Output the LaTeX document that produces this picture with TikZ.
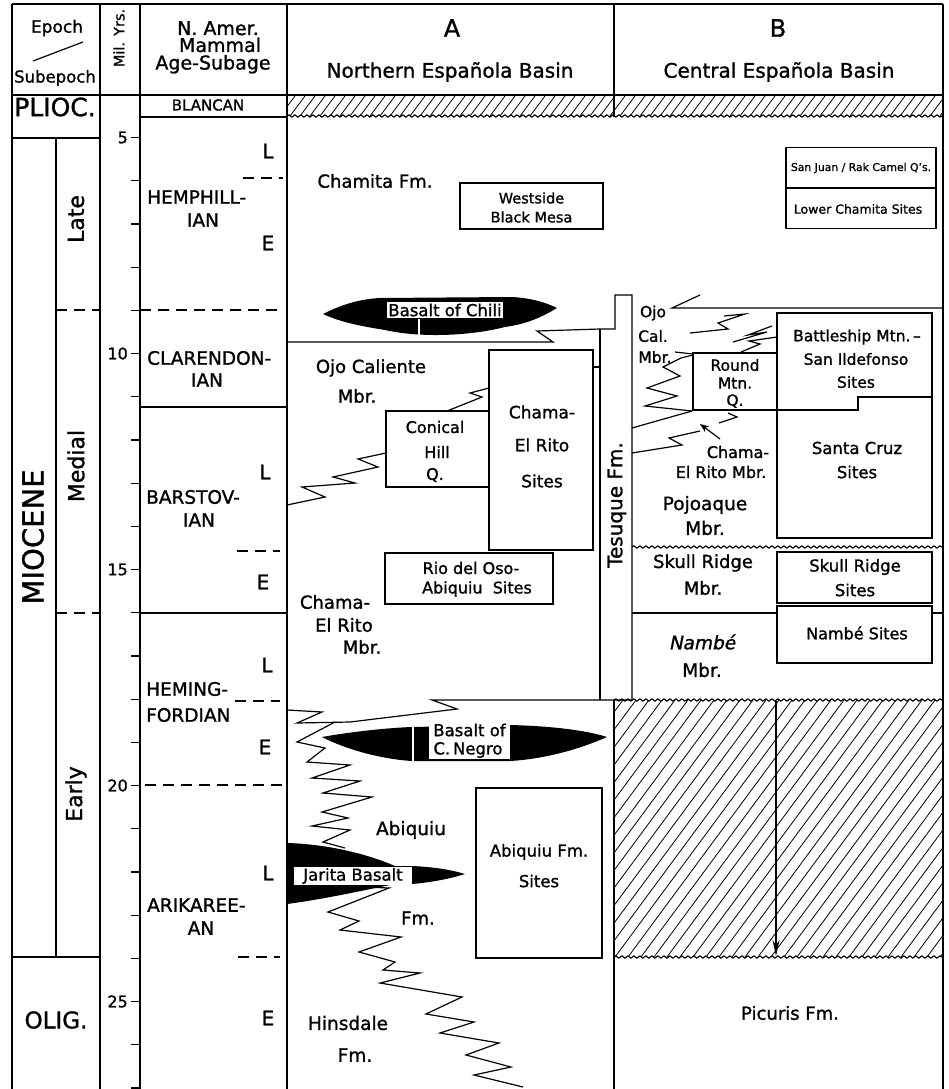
\documentclass[tikz,border=0pt]{standalone}
\usepackage{fontspec}
\setmainfont{DejaVu Sans}[FakeBold=1.2]
\usetikzlibrary{decorations.pathmorphing,arrows.meta}
\newcommand\fsz[1]{\fontsize{#1}{#1}\selectfont}
\tikzset{
  frame/.style={line width=1.5pt},
  ln/.style={line width=1.2pt, line join=miter},
  dsh/.style={line width=1.3pt, dash pattern=on 11pt off 7pt},
  wavy/.style={line width=1.1pt, decorate, decoration={snake, amplitude=1.1pt, segment length=6pt}},
  hatch/.style={line width=0.8pt},
  lab/.style={inner sep=0pt, font=\fsz{#1}},
  sbox/.style={draw, line width=1.2pt, inner sep=0pt},
}
\begin{document}
\begin{tikzpicture}[x=1pt,y=-1pt]
\useasboundingbox (0,0) rectangle (949,1089);

% ---------- hatched bands ----------
\begin{scope}
  \clip (287,96) rectangle (943,116);
  \foreach \x in {270,280,...,950} \draw[hatch] (\x,116) -- (\x+15,96);
\end{scope}
\draw[wavy] (287,116) -- (943,116);
\begin{scope}
  \clip (614,700) rectangle (943,957);
  \foreach \x in {420,433,...,950} \draw[hatch] (\x,957) -- (\x+190,700);
\end{scope}
\draw[wavy] (614,700) -- (943,700);
\draw[wavy] (614,957) -- (943,957);

% ---------- frame ----------
\draw[frame] (12,4) -- (943,4);
\draw[frame] (12,95) -- (943,95);
\foreach \x in {12,100,140,287,943} \draw[frame] (\x,4) -- (\x,1089);
\draw[frame] (614,4) -- (614,117);
\draw[frame] (614,700) -- (614,1089);

% epoch column
\draw[frame] (12,138) -- (100,138);
\draw[ln] (56,138) -- (56,957);
\draw[dsh] (56,310) -- (100,310);
\draw[dsh] (56,613) -- (100,613);
\draw[frame] (12,957) -- (100,957);
\draw[ln] (33,61) -- (83,42);

% Mil. yrs ticks
\foreach \t in {0,...,22} \draw[ln] (131,{137.5+\t*43.2}) -- (140,{137.5+\t*43.2});
\node[lab=16, anchor=east] (m5)  at (128,137.5) {5};
\node[lab=16, anchor=east] (m10) at (128,353.5) {10};
\node[lab=16, anchor=east] (m15) at (128,569.5) {15};
\node[lab=16, anchor=east] (m20) at (128,785.5) {20};
\node[lab=16, anchor=east] (m25) at (128,1001.5) {25};

% mammal age column
\draw[frame] (140,117) -- (287,117);
\draw[dsh] (140,310) -- (283,310);
\draw[frame] (140,407) -- (287,407);
\draw[frame] (140,613) -- (287,613);
\draw[dsh] (145,785) -- (282,785);
\draw[dsh] (243,178) -- (283,178);
\draw[dsh] (237,551) -- (280,551);
\draw[dsh] (235,701) -- (280,701);
\draw[dsh] (238,957) -- (280,957);

% ---------- header text ----------
\node[lab=17] (hep) at (57,28) {Epoch};
\node[lab=16.5] (hsub) at (55,78) {Subepoch};
\node[lab=14.5, rotate=90] (hmil) at (119,38) {Mil. Yrs.};
\node[lab=19, anchor=base] (hn1) at (218,35) {N. Amer.};
\node[lab=19, anchor=base] (hn2) at (220,52) {Mammal};
\node[lab=19, anchor=base] (hn3) at (213,69.5) {Age-Subage};
\node[lab=24] (hA) at (452,28) {A};
\node[lab=20] (hA2) at (450,72) {Northern Española Basin};
\node[lab=24] (hB) at (778,28) {B};
\node[lab=20] (hB2) at (779,72) {Central Española Basin};

% ---------- epoch / subepoch ----------
\node[lab=25] (plioc) at (55,107) {PLIOC.};
\node[lab=29, rotate=90] (mioc) at (33,537) {MIOCENE};
\node[lab=22, rotate=90] (late) at (76,219) {Late};
\node[lab=22, rotate=90] (medial) at (76,466) {Medial};
\node[lab=22, rotate=90] (early) at (76,794) {Early};
\node[lab=23] (olig) at (56,1020) {OLIG.};

% ---------- mammal ages ----------
\node[lab=15] (blancan) at (208,105) {BLANCAN};
\node[lab=20] (hL) at (268,151) {L};
\node[lab=18.5, anchor=west] (hemp1) at (147,197) {HEMPHILL-};
\node[lab=18.5] (hemp2) at (203,220) {IAN};
\node[lab=20] (hE) at (268,243) {E};
\node[lab=18.5, anchor=west] (clar1) at (147,358) {CLARENDON-};
\node[lab=18.5] (clar2) at (207,380) {IAN};
\node[lab=20] (bL) at (265,472) {L};
\node[lab=18.5, anchor=west] (bar1) at (146,497) {BARSTOV-};
\node[lab=18.5] (bar2) at (199,520) {IAN};
\node[lab=20] (bE) at (263,582) {E};
\node[lab=20] (heL) at (267,665) {L};
\node[lab=18.5, anchor=west] (hem1) at (146,689) {HEMING-};
\node[lab=18.5, anchor=west] (hem2) at (146,715) {FORDIAN};
\node[lab=20] (heE) at (265,747) {E};
\node[lab=20] (aL) at (268,873) {L};
\node[lab=18.5, anchor=west] (ari1) at (147,905) {ARIKAREE-};
\node[lab=18.5] (ari2) at (201,928) {AN};
\node[lab=20] (aE) at (268,1018) {E};

% ---------- column A ----------
\node[lab=18] (chamita) at (375,181) {Chamita Fm.};
\node[sbox, minimum width=143pt, minimum height=46pt] (westbox) at (531.5,206) {};
\node[lab=14.5] (west1) at (531.5,198) {Westside};
\node[lab=14.5] (west2) at (531.5,217) {Black Mesa};

% Basalt of Chili
\fill (323,314) .. controls (345,303) and (362,299) .. (380,298) -- (512,297)
  .. controls (530,298) and (545,302) .. (557,308)
  .. controls (542,317) and (527,324) .. (505,327)
  .. controls (470,336) and (420,338) .. (385,330)
  .. controls (360,326) and (340,322) .. cycle;
\draw[white, line width=1.5pt] (419,319) -- (419,340);
\node[fill=white, inner xsep=1.5pt, inner ysep=1.5pt, font=\fsz{16.5}] (chili) at (445,310) {Basalt of Chili};

% Ojo Caliente boundary and Tesuque column
\draw[ln] (287,342) -- (553,342) -- (537,331) -- (600,329) -- (615,329) -- (615,295) -- (632,295) -- (632,700);
\draw[ln] (600,329) -- (600,700);
\draw[ln] (287,710) -- (322,712) -- (297,723) -- (350,722) -- (457,709) -- (432,700) -- (632,700);

\node[lab=18] (ojoc1) at (371,368) {Ojo Caliente};
\node[lab=18] (ojoc2) at (357,396) {Mbr.};

\node[sbox, minimum width=104pt, minimum height=200pt] (chamasites) at (541,450) {};
\node[lab=17] (cs1) at (542,412) {Chama-};
\node[lab=17] (cs2) at (542,445) {El Rito};
\node[lab=17] (cs3) at (542,481) {Sites};
\coordinate (csR) at (593,367);
\coordinate (tesL) at (600,367);
\draw[ln] (csR) -- (tesL);

\node[sbox, minimum width=103pt, minimum height=76pt] (conical) at (437.5,449) {};
\node[lab=16] (con1) at (435,427) {Conical};
\node[lab=16] (con2) at (437,452) {Hill};
\node[lab=16] (con3) at (435,475) {Q.};
\draw[ln] (447,411) -- (482,397) -- (470,393) -- (489,388);
\draw[ln] (386,453) -- (358,459) -- (378,467) -- (333,477) -- (355,483) -- (302,487) -- (325,497) -- (287,505);

\node[sbox, minimum width=168pt, minimum height=51pt] (rio) at (469,578.5) {};
\node[lab=16] (rio1) at (471,568) {Rio del Oso-};
\node[lab=16] (rio2) at (477,589) {Abiquiu\ \ Sites};

\node[lab=18] (cer1) at (335,602) {Chama-};
\node[lab=18] (cer2) at (344,625) {El Rito};
\node[lab=18] (cer3) at (362,647) {Mbr.};

% Basalt of C. Negro
\fill (322,737) .. controls (350,732) and (385,728) .. (412,727) -- (510,725)
  .. controls (550,726) and (585,730) .. (607,737)
  .. controls (580,749) and (545,759) .. (510,761) -- (412,761)
  .. controls (380,759) and (345,749) .. cycle;
\draw[white, line width=1.5pt] (413,725) -- (413,763);
\fill[white] (429,720) rectangle (510,759);
\node[lab=16.5] (neg1) at (469.5,730) {Basalt of};
\node[lab=16.5] (neg2) at (468,750) {C.\,Negro};

% left interfingering
\draw[ln] (335,722) -- (297,742) -- (325,748) -- (307,762) -- (350,765) -- (312,778) -- (360,781) -- (323,793) -- (372,797) -- (322,812) -- (348,818) -- (312,826) -- (350,830) -- (323,842) -- (345,848);

% Jarita basalt
\fill (287,843) .. controls (325,844) and (365,853) .. (395,866) -- (412,866)
  .. controls (435,867) and (452,870) .. (465,874)
  .. controls (452,878) and (435,882) .. (412,884) -- (395,884)
  .. controls (365,890) and (325,899) .. (287,904) -- cycle;
\fill[white] (294,866.5) rectangle (412,884.5);
\node[lab=16.5] (jarita) at (353,876) {Jarita Basalt};

\draw[ln] (365,887) -- (389,888) -- (328,912) -- (359,921) -- (340,930) -- (401,937) -- (359,952) -- (395,962) -- (383,970) -- (420,973) -- (380,983) -- (462,997) -- (426,1014) -- (474,1022) -- (440,1033) -- (499,1043) -- (466,1055) -- (511,1067) -- (474,1075) -- (523,1087);

\node[lab=18.5] (abiq) at (411,830) {Abiquiu};
\node[lab=18] (abiqfm) at (418,918) {Fm.};
\node[sbox, minimum width=126pt, minimum height=170pt] (abiqsites) at (539,873) {};
\node[lab=16.5] (as1) at (539,852) {Abiquiu Fm.};
\node[lab=16.5] (as2) at (539,881) {Sites};
\node[lab=18.5] (hins1) at (348,1023) {Hinsdale};
\node[lab=18.5] (hins2) at (355,1055) {Fm.};

% ---------- column B ----------
\node[sbox, minimum width=150pt, minimum height=41pt] (sanjuan) at (861,168) {};
\node[sbox, minimum width=150pt, minimum height=41pt] (lowerch) at (861,208) {};
\node[lab=10.8] (sj) at (861,168) {San Juan / Rak Camel Q's.};
\node[lab=12.5] (lc) at (858,209) {Lower Chamita Sites};

\node[lab=20, rotate=90] (tesuque) at (617,505) {Tesuque Fm.};

\draw[ln] (700,295) -- (672,308) -- (943,308);
\draw[ln] (690,333) -- (728,329) -- (718,323) -- (745,314) -- (724,316);
\draw[ln] (733,342) -- (767,332) -- (748,335) -- (772,326);
\draw[ln] (741,352) -- (760,344) -- (749,341) -- (777,337);
\draw[ln] (675,352) -- (693,354);
\draw[ln] (693,355) -- (681,358) -- (663,367) -- (680,376) -- (647,388) -- (677,396) -- (645,406) -- (692,411);
\draw[ln] (632,428) -- (692,411);
\draw[ln] (632,453) -- (682,445) -- (669,438) -- (700,431);
\draw[ln] (728,413) -- (737,417) -- (719,423);
\coordinate (arA) at (720,439);
\coordinate (arB) at (700,424);
\draw[ln, -{Stealth[length=9pt,width=7pt]}] (arA) -- (arB);

\node[lab=15.5] (bo1) at (653,313) {Ojo};
\node[lab=15.5] (bo2) at (653,336) {Cal.};
\node[lab=15.5] (bo3) at (655,357) {Mbr.};

\node[sbox, minimum width=84pt, minimum height=57pt] (round) at (735,381.5) {};
\node[lab=15.5] (rd1) at (735,365) {Round};
\node[lab=15.5] (rd2) at (735,383) {Mtn.};
\node[lab=15.5] (rd3) at (735,401) {Q.};

\draw[ln] (777,313) -- (932,313) -- (932,397) -- (858,397) -- (858,410) -- (777,410) -- cycle;
\draw[ln] (777,410) -- (777,538) -- (932,538) -- (932,397);
\node[lab=15.5] (bt1) at (857,337) {Battleship Mtn.\,–};
\node[lab=15.5] (bt2) at (856,359) {San Ildefonso};
\node[lab=15.5] (bt3) at (856,382) {Sites};
\node[lab=16.5] (sc1) at (857,448) {Santa Cruz};
\node[lab=16.5] (sc2) at (857,472) {Sites};

\node[lab=16] (bc1) at (738,452) {Chama-};
\node[lab=16] (bc2) at (721,472) {El Rito Mbr.};
\node[lab=18.5] (poj1) at (705,505) {Pojoaque};
\node[lab=18.5] (poj2) at (705,528) {Mbr.};

\draw[wavy] (632,547) -- (943,547);
\node[sbox, minimum width=155pt, minimum height=51pt] (skullsites) at (854.5,577.5) {};
\node[lab=16.5] (ss1) at (855,567) {Skull Ridge};
\node[lab=16.5] (ss2) at (855,590) {Sites};
\node[lab=18] (sk1) at (703,563) {Skull Ridge};
\node[lab=18] (sk2) at (703,588) {Mbr.};

\draw[ln] (632,613) -- (777,613);
\draw[ln] (932,613) -- (943,613);
\node[sbox, minimum width=155pt, minimum height=57pt] (nambesites) at (854.5,634.5) {};
\node[lab=16] (ns) at (857,633) {Nambé Sites};
\node[lab=18.5] (nm1) at (702,642) {\addfontfeature{FakeSlant=0.2}Nambé};
\node[lab=18.5] (nm2) at (702,670) {Mbr.};

\coordinate (pA) at (776,701);
\coordinate (pB) at (776,956);
\draw[ln, -{Stealth[length=16pt,width=7pt]}] (pA) -- (pB);
\node[lab=18] (picuris) at (790,1013) {Picuris Fm.};

\end{tikzpicture}
\end{document}
